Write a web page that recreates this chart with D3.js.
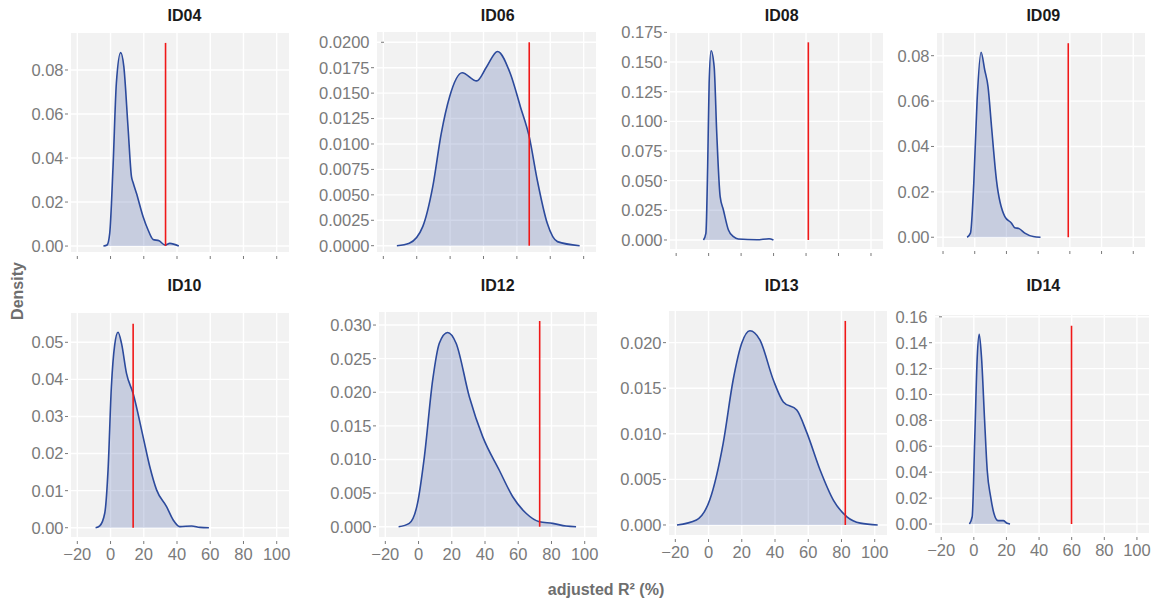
<!DOCTYPE html>
<html>
<head>
<meta charset="utf-8">
<script src="https://cdn.jsdelivr.net/npm/d3@7"></script>
<style>
	body { margin: 0; background: #fff; }
	text { font-family: "Liberation Sans", Arial, sans-serif; }
</style>
</head>
<body>
<svg id="chart" width="1166" height="604"></svg>
<script>
// panel ids, observed adjusted R² (red line) and its drawn height
var ids = ['ID04', 'ID06', 'ID08', 'ID09', 'ID10', 'ID12', 'ID13', 'ID14'];
var observed = [33.1, 67.4, 61.4, 59.0, 13.6, 72.9, 82.3, 59.9];
var lineTop = [0.0923, 0.0200, 0.1666, 0.0855, 0.0550, 0.0306, 0.02238, 0.1531];

var xTicks = [-20, 0, 20, 40, 60, 80, 100];
var yTickLabels = [
	['0.00', '0.02', '0.04', '0.06', '0.08'],
	['0.0000', '0.0025', '0.0050', '0.0075', '0.0100', '0.0125', '0.0150', '0.0175', '0.0200'],
	['0.000', '0.025', '0.050', '0.075', '0.100', '0.125', '0.150', '0.175'],
	['0.00', '0.02', '0.04', '0.06', '0.08'],
	['0.00', '0.01', '0.02', '0.03', '0.04', '0.05'],
	['0.000', '0.005', '0.010', '0.015', '0.020', '0.025', '0.030'],
	['0.000', '0.005', '0.010', '0.015', '0.020'],
	['0.00', '0.02', '0.04', '0.06', '0.08', '0.10', '0.12', '0.14', '0.16']
];

// density curves: [adjusted R² %, density]
var dens04 = [[-4.3, 0], [-2.1, 0.0005], [-0.5, 0.0058], [1.5, 0.036], [3.5, 0.074], [6.1, 0.0879], [8.0, 0.0815],
	[10.5, 0.0542], [12.6, 0.0315], [13.6, 0.0288], [15.6, 0.024], [19.6, 0.0133], [22.6, 0.0073], [25.6, 0.003],
	[29.2, 0.0024], [32.7, 0.0005], [35.7, 0.0012], [41.1, 0]];
var dens06 = [[-11.9, 0], [-4.45, 0.00024], [3.6, 0.00187], [9.6, 0.0058], [14.7, 0.01105], [19.7, 0.01465],
	[27.2, 0.0170], [35.9, 0.0162], [41.9, 0.0176], [48.4, 0.0191], [56.0, 0.01695], [62.1, 0.01367],
	[67.4, 0.01072], [72.2, 0.00646], [78.2, 0.0022], [84.3, 0.0004], [97.6, 0]];
var dens08 = [[-3.2, 0], [-1.7, 0.0056], [-0.6, 0.0618], [0.3, 0.132], [1.5, 0.1595], [3.4, 0.146], [5.0, 0.0899],
	[7.1, 0.0365], [9.1, 0.0253], [12.2, 0.0084], [15.3, 0.0028], [18.3, 0.0008], [29.7, 0.0002], [37.2, 0.0011],
	[39.9, 0]];
var dens09 = [[-4.8, 0], [-2.7, 0.0018], [-0.6, 0.0238], [1.5, 0.0605], [4.0, 0.0815], [6.3, 0.0737], [8.4, 0.0663],
	[10.6, 0.0487], [13.7, 0.0252], [19.0, 0.0091], [23.2, 0.0062], [25.3, 0.0042], [28.0, 0.0038], [31.6, 0.0018],
	[36.9, 0.0003], [41.5, 0]];
var dens10 = [[-9.0, 0], [-6.5, 0.0005], [-3.5, 0.0039], [-1.5, 0.0156], [0.5, 0.038], [2.5, 0.0493], [4.5, 0.0527],
	[6.6, 0.0497], [9.6, 0.0416], [13.6, 0.0362], [19.6, 0.0245], [23.6, 0.0165], [27.7, 0.0102], [33.7, 0.0057],
	[37.7, 0.0021], [41.7, 0.0003], [48.8, 0.00046], [53.8, 0.0001], [59.2, 0]];
var dens12 = [[-12.0, 0], [-5.6, 0.0005], [-0.6, 0.0035], [3.5, 0.0104], [8.5, 0.0218], [12.5, 0.0273], [17.5, 0.0289],
	[22.6, 0.0273], [30.6, 0.0193], [38.6, 0.0134], [48.6, 0.0084], [56.6, 0.0045], [64.7, 0.0020], [72.7, 0.00074],
	[80.7, 0.0005], [88.8, 0.0001], [94.8, 0]];
var dens13 = [[-19.0, 0], [-7.3, 0.00055], [0.7, 0.00274], [8.8, 0.00896], [14.8, 0.0159], [19.9, 0.0199],
	[24.9, 0.0213], [30.9, 0.0203], [39.0, 0.0159], [45.0, 0.0135], [53.1, 0.0126], [59.2, 0.0101], [67.2, 0.0060],
	[75.2, 0.0027], [83.3, 0.0009], [91.4, 0.0002], [101.8, 0]];
var dens14 = [[-2.7, 0], [-1.0, 0.0056], [0.6, 0.0674], [2.1, 0.129], [3.3, 0.1465], [4.7, 0.129], [6.6, 0.0803],
	[8.2, 0.0417], [10.3, 0.0211], [12.3, 0.0083], [14.8, 0.0026], [18.1, 0.0026], [20.1, 0.0008], [22.2, 0]];

var curves = [dens04, dens06, dens08, dens09, dens10, dens12, dens13, dens14];

// panel boxes and y ranges as laid out in the picture
var layout = [
	{l: 71, r: 289, t: 33, b: 252, y0: -0.0027, y1: 0.0968, tx: 184.5, ty: 21},
	{l: 377, r: 596, t: 32, b: 252, y0: -0.00062, y1: 0.02101, tx: 497.7, ty: 21, topIn: true},
	{l: 670, r: 883, t: 32, b: 249, y0: -0.0076, y1: 0.1753, tx: 781.7, ty: 21},
	{l: 937, r: 1145, t: 33, b: 247, y0: -0.0043, y1: 0.0900, tx: 1043.3, ty: 21},
	{l: 71, r: 289, t: 313, b: 537, y0: -0.0025, y1: 0.0579, tx: 184.5, ty: 291, xlab: true},
	{l: 379, r: 597, t: 312, b: 537, y0: -0.00153, y1: 0.03194, tx: 497.7, ty: 291, xlab: true},
	{l: 669, r: 887, t: 311, b: 535, y0: -0.0011, y1: 0.02347, tx: 781.7, ty: 291, xlab: true},
	{l: 935, r: 1149, t: 315, b: 533, y0: -0.00695, y1: 0.1614, tx: 1043.3, ty: 291, xlab: true, topIn: true}
];

var xDomain = [-23.8, 107.4];
var blue = '#2c4a9c';
var grey = '#7a7a7a';

var svg = d3.select('#chart');

ids.forEach(function(id, i) {
	var p = layout[i];
	var g = svg.append('g').attr('class', 'panel');

	var x = d3.scaleLinear().domain(xDomain).range([p.l, p.r]);
	var y = d3.scaleLinear().domain([p.y0, p.y1]).range([p.b, p.t]);
	var yTicks = yTickLabels[i].map(Number);

	g.append('rect')
		.attr('x', p.l).attr('y', p.t)
		.attr('width', p.r - p.l).attr('height', p.b - p.t)
		.attr('fill', '#f2f2f2');

	// grid
	g.selectAll('.vgrid').data(xTicks).enter().append('line')
		.attr('x1', d => x(d)).attr('x2', d => x(d))
		.attr('y1', p.t).attr('y2', p.b)
		.attr('stroke', '#fff').attr('stroke-width', 1.4);
	g.selectAll('.hgrid').data(yTicks).enter().append('line')
		.attr('x1', p.l).attr('x2', p.r)
		.attr('y1', d => y(d)).attr('y2', d => y(d))
		.attr('stroke', '#fff').attr('stroke-width', 1.4);

	var area = d3.area()
		.x(d => x(d[0]))
		.y0(y(0))
		.y1(d => y(d[1]))
		.curve(d3.curveMonotoneX);
	var line = d3.line()
		.x(d => x(d[0]))
		.y(d => y(d[1]))
		.curve(d3.curveMonotoneX);

	g.append('path').datum(curves[i])
		.attr('d', area)
		.attr('fill', blue).attr('fill-opacity', 0.22);
	g.append('path').datum(curves[i])
		.attr('d', line)
		.attr('fill', 'none').attr('stroke', blue).attr('stroke-width', 1.6);

	g.append('line')
		.attr('x1', x(observed[i])).attr('x2', x(observed[i]))
		.attr('y1', y(0)).attr('y2', y(lineTop[i]))
		.attr('stroke', '#f01818').attr('stroke-width', 1.6);

	// y axis
	var yaxis = g.append('g');
	yaxis.selectAll('line').data(yTicks).enter().append('line')
		.attr('x1', (d, k) => (p.topIn && k == yTicks.length - 1) ? p.l + 4 : p.l - 6)
		.attr('x2', (d, k) => (p.topIn && k == yTicks.length - 1) ? p.l + 7 : p.l - 3)
		.attr('y1', d => y(d)).attr('y2', d => y(d))
		.attr('stroke', grey).attr('stroke-width', 1);
	yaxis.selectAll('text').data(yTickLabels[i]).enter().append('text')
		.attr('x', p.l - 7.5)
		.attr('y', d => y(+d))
		.attr('dy', '0.36em')
		.attr('text-anchor', 'end')
		.attr('font-size', 16.5)
		.attr('fill', grey)
		.text(d => d);

	// x axis
	var xaxis = g.append('g');
	xaxis.selectAll('line').data(xTicks).enter().append('line')
		.attr('x1', d => x(d)).attr('x2', d => x(d))
		.attr('y1', p.b + 4).attr('y2', p.b + 7)
		.attr('stroke', grey).attr('stroke-width', 1);
	if (p.xlab) {
		xaxis.selectAll('text').data(xTicks).enter().append('text')
			.attr('x', d => x(d))
			.attr('y', p.b + 23)
			.attr('text-anchor', 'middle')
			.attr('font-size', 16.5)
			.attr('fill', grey)
			.text(d => d3.format('d')(d));
	}

	g.append('text')
		.attr('x', p.tx)
		.attr('y', p.ty)
		.attr('text-anchor', 'middle')
		.attr('font-size', 16)
		.attr('font-weight', 'bold')
		.attr('fill', '#1a1a1a')
		.text(id);
});

svg.append('text')
	.attr('transform', 'translate(23,291) rotate(-90)')
	.attr('text-anchor', 'middle')
	.attr('font-size', 16)
	.attr('font-weight', 'bold')
	.attr('fill', '#6e6e6e')
	.text('Density');

svg.append('text')
	.attr('x', 606)
	.attr('y', 595)
	.attr('text-anchor', 'middle')
	.attr('font-size', 16)
	.attr('font-weight', 'bold')
	.attr('fill', '#6e6e6e')
	.text('adjusted R² (%)');
</script>
</body>
</html>
